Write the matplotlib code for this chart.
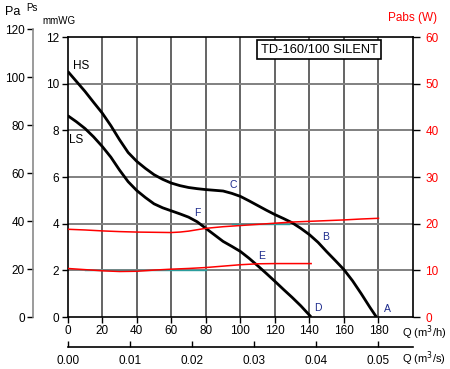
import matplotlib
matplotlib.use("Agg")
import matplotlib.pyplot as plt

plt.rcParams["font.family"] = ["Liberation Sans", "DejaVu Sans"]

# fan curves, Q in m3/h, static pressure in mmWG
Q_HS = [0, 5, 10, 15, 20, 25, 30, 35, 40, 45, 50, 55, 60, 65, 70, 75, 80, 85, 90,
        95, 100, 105, 110, 115, 120, 125, 130, 135, 140, 145, 150, 155, 160, 165,
        170, 175, 178.8]
P_HS = [10.53, 10.1, 9.67, 9.2, 8.74, 8.2, 7.6, 7.05, 6.67, 6.37, 6.1, 5.9, 5.74,
        5.63, 5.55, 5.5, 5.46, 5.43, 5.4, 5.3, 5.17, 4.98, 4.78, 4.58, 4.39, 4.22,
        4.04, 3.8, 3.53, 3.2, 2.8, 2.42, 2.03, 1.55, 1.0, 0.42, 0.0]

Q_LS = [0, 5, 10, 15, 20, 25, 30, 35, 40, 45, 50, 55, 60, 65, 70, 75, 80, 85, 90,
        95, 100, 105, 110, 115, 120, 125, 130, 135, 141]
P_LS = [8.63, 8.37, 8.08, 7.72, 7.31, 6.85, 6.3, 5.8, 5.42, 5.12, 4.85, 4.68, 4.55,
        4.42, 4.28, 4.08, 3.8, 3.52, 3.24, 3.03, 2.81, 2.52, 2.2, 1.87, 1.53, 1.18,
        0.84, 0.48, 0.0]

# absorbed power (W)
Q_W_HS = [0, 10, 20, 30, 40, 50, 60, 65, 70, 75, 80, 90, 100, 110, 120, 130, 140,
          150, 160, 170, 180]
W_HS = [18.8, 18.65, 18.45, 18.3, 18.2, 18.15, 18.1, 18.2, 18.4, 18.7, 19.0, 19.35,
        19.6, 19.85, 20.1, 20.35, 20.5, 20.65, 20.8, 21.0, 21.15]
Q_W_LS = [0, 10, 20, 30, 40, 50, 60, 70, 80, 90, 100, 110, 120, 130, 141]
W_LS = [10.4, 10.15, 9.9, 9.75, 9.8, 10.05, 10.25, 10.4, 10.6, 10.9, 11.2, 11.4,
        11.45, 11.45, 11.45]

# points / labels
POINT_NAMES = ["C", "F", "B", "E", "D", "A"]
POINT_Q = [96, 75, 149.5, 112, 145, 185]
POINT_P = [5.66, 4.44, 3.44, 2.61, 0.37, 0.33]

Q_TICKS = [0, 20, 40, 60, 80, 100, 120, 140, 160, 180]
QS_TICKS = [0.00, 0.01, 0.02, 0.03, 0.04, 0.05]
PA_TICKS = [0, 20, 40, 60, 80, 100, 120]
MMWG_TICKS = [0, 2, 4, 6, 8, 10, 12]
W_TICKS = [0, 10, 20, 30, 40, 50, 60]

W, H = 450, 369
fig = plt.figure(figsize=(W / 100, H / 100), dpi=100)


def fx(px):
    return px / W


def fy(py):
    return 1 - py / H


L, R, T, B = 67.7, 413, 37, 317
ax = fig.add_axes([fx(L), fy(B), fx(R) - fx(L), fy(T) - fy(B)])
ax.set_xlim(0, 200)
ax.set_ylim(0, 12)

# grid
for q in range(20, 200, 20):
    ax.axvline(q, color="#3a3a3a", lw=1.1, zorder=1)
for p in range(2, 12, 2):
    ax.axhline(p, color="#808080", lw=1.4, zorder=1)
for s in ax.spines.values():
    s.set_linewidth(1.2)
    s.set_color("black")

# faint teal traces under the power curves
ax.plot([10, 80], [2, 2], color="#2a9d9d", lw=1.0, zorder=2)
ax.plot([95, 128], [4, 4], color="#2a9d9d", lw=1.0, zorder=2)

ax.plot(Q_HS, P_HS, color="black", lw=2.0, zorder=4, solid_capstyle="butt")
ax.plot(Q_LS, P_LS, color="black", lw=2.0, zorder=4, solid_capstyle="butt")

ax.set_xticks(Q_TICKS)
ax.set_xticklabels([str(q) for q in Q_TICKS])
ax.set_yticks(MMWG_TICKS)
ax.tick_params(axis="both", labelsize=8.5, length=4, width=1, pad=2)

ax.text(7.7, 10.76, "HS", fontsize=8.5, ha="center", va="center", zorder=5)
ax.text(4.8, 7.59, "LS", fontsize=8.5, ha="center", va="center", zorder=5)
for name, q, p in zip(POINT_NAMES, POINT_Q, POINT_P):
    ax.text(q, p, name, fontsize=7.5, color="#1c2a8c", ha="center", va="center", zorder=5)

ax.text(0.728, 0.955, "TD-160/100 SILENT", transform=ax.transAxes, fontsize=9.3,
        ha="center", va="center", zorder=6,
        bbox=dict(boxstyle="square,pad=0.25", fc="white", ec="black", lw=1.2))

# power axis (right)
axw = ax.twinx()
axw.set_ylim(0, 60)
axw.plot(Q_W_HS, W_HS, color="#ff0000", lw=1.1, zorder=3)
axw.plot(Q_W_LS, W_LS, color="#ff0000", lw=1.1, zorder=3)
axw.set_yticks(W_TICKS)
axw.tick_params(axis="y", labelsize=8.5, length=5, width=1, pad=4, labelcolor="#ff0000")
for s in axw.spines.values():
    s.set_visible(False)

# Pa axis (far left)
axp = fig.add_axes([fx(33), fy(317), 0.001, fy(29) - fy(317)])
axp.set_ylim(0, 120)
axp.set_xticks([])
axp.set_yticks(PA_TICKS)
axp.patch.set_visible(False)
for k in ["top", "right", "bottom"]:
    axp.spines[k].set_visible(False)
axp.spines["left"].set_color("#8a8a8a")
axp.spines["left"].set_linewidth(1.2)
axp.tick_params(axis="y", labelsize=8.5, length=4, width=1, pad=2)

# m3/s axis (bottom)
axs = fig.add_axes([fx(L), fy(347), fx(R) - fx(L), 0.001])
axs.set_xlim(0, 200 / 3600)
axs.set_yticks([])
axs.patch.set_visible(False)
for k in ["top", "right", "left"]:
    axs.spines[k].set_visible(False)
axs.spines["bottom"].set_linewidth(1.2)
axs.set_xticks(QS_TICKS)
axs.set_xticklabels([f"{v:.2f}" for v in QS_TICKS])
axs.tick_params(axis="x", direction="in", labelsize=8.5, length=4, width=1, pad=6)

# axis captions
fig.text(fx(5), fy(12), "Pa", fontsize=9, va="center", ha="left")
fig.text(fx(26), fy(8), "Ps", fontsize=7, va="center", ha="left")
fig.text(fx(42), fy(21), "mmWG", fontsize=7, va="center", ha="left")
fig.text(fx(388), fy(18), "Pabs (W)", fontsize=8.5, color="#ff0000", va="center", ha="left")
fig.text(fx(402), fy(333), "Q (m$^3$/h)", fontsize=8, va="center", ha="left")
fig.text(fx(402), fy(359), "Q (m$^3$/s)", fontsize=8, va="center", ha="left")

fig.savefig("out.png", dpi=100)
